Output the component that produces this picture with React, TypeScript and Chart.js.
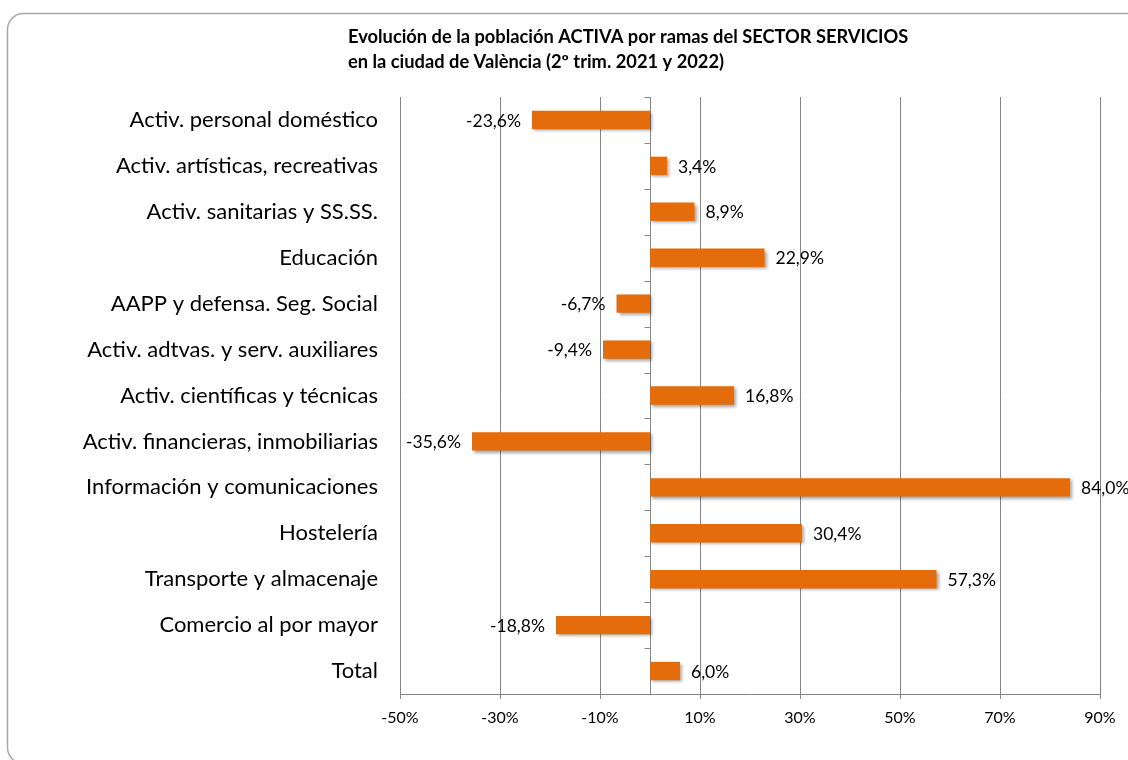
import React, { useEffect, useRef } from "react";
import { Chart, registerables } from "chart.js";

Chart.register(...registerables);

const categories = [
  "Activ. personal doméstico",
  "Activ. artísticas, recreativas",
  "Activ. sanitarias y SS.SS.",
  "Educación",
  "AAPP y defensa. Seg. Social",
  "Activ. adtvas. y serv. auxiliares",
  "Activ. científicas y técnicas",
  "Activ. financieras, inmobiliarias",
  "Información y comunicaciones",
  "Hostelería",
  "Transporte y almacenaje",
  "Comercio al por mayor",
  "Total",
];

const values = [-23.6, 3.4, 8.9, 22.9, -6.7, -9.4, 16.8, -35.6, 84.0, 30.4, 57.3, -18.8, 6.0];

const xTicks = [-50, -30, -10, 10, 30, 50, 70, 90];

const titleLines = [
  "Evolución de la población ACTIVA por ramas del SECTOR SERVICIOS",
  "en la ciudad de València (2º trim. 2021 y 2022)",
];

const FONT = "Lato, 'Open Sans', sans-serif";
const BAR = "#E46C0A";

const fmt = (v: number) => v.toFixed(1).replace(".", ",") + "%";

const decorPlugin = {
  id: "decor",
  beforeDraw(chart: any) {
    const ctx = chart.ctx;
    ctx.save();
    ctx.fillStyle = "#fff";
    ctx.fillRect(0, 0, chart.width, chart.height);
    ctx.strokeStyle = "#A6A6A6";
    ctx.lineWidth = 1.5;
    ctx.beginPath();
    (ctx as any).roundRect(7.5, 13.5, 1140, 750, 16);
    ctx.stroke();
    // title
    ctx.fillStyle = "#000";
    ctx.font = `bold 18.3px ${FONT}`;
    ctx.textAlign = "left";
    ctx.textBaseline = "middle";
    ctx.fillText(titleLines[0], 348, 37);
    ctx.fillText(titleLines[1], 348, 62);
    ctx.restore();
  },
  beforeDatasetsDraw(chart: any) {
    const ctx = chart.ctx;
    const xs = chart.scales.x;
    const x0 = Math.round(xs.getPixelForValue(0)) + 0.5;
    const { top, bottom } = chart.chartArea;
    ctx.save();
    ctx.strokeStyle = "#868686";
    ctx.lineWidth = 1;
    ctx.beginPath();
    ctx.moveTo(x0, top);
    ctx.lineTo(x0, bottom);
    const n = categories.length;
    const step = (bottom - top) / n;
    for (let i = 0; i <= n; i++) {
      const y = Math.round(top + i * step) + 0.5;
      ctx.moveTo(x0 - 6, y);
      ctx.lineTo(x0, y);
    }
    ctx.stroke();
    ctx.restore();
  },
  afterDatasetsDraw(chart: any) {
    const ctx = chart.ctx;
    const meta = chart.getDatasetMeta(0);
    ctx.save();
    ctx.fillStyle = "#000";
    ctx.font = `17.5px ${FONT}`;
    ctx.textBaseline = "middle";
    meta.data.forEach((el: any, i: number) => {
      const v = values[i];
      if (v >= 0) {
        ctx.textAlign = "left";
        ctx.fillText(fmt(v), el.x + 11, el.y + 1);
      } else {
        ctx.textAlign = "right";
        ctx.fillText(fmt(v), el.x - 11, el.y + 1);
      }
    });
    ctx.restore();
  },
};

const shadowPlugin = {
  id: "barShadow",
  beforeDatasetDraw(chart: any) {
    const ctx = chart.ctx;
    ctx.save();
    ctx.shadowColor = "rgba(0,0,0,0.35)";
    ctx.shadowBlur = 3;
    ctx.shadowOffsetX = 2;
    ctx.shadowOffsetY = 2;
  },
  afterDatasetDraw(chart: any) {
    chart.ctx.restore();
  },
};

export default function App() {
  const ref = useRef<HTMLCanvasElement | null>(null);
  useEffect(() => {
    if (!ref.current) return;
    const chart = new Chart(ref.current, {
      type: "bar",
      data: {
        labels: categories,
        datasets: [
          {
            data: values,
            backgroundColor: BAR,
            borderWidth: 0,
            barPercentage: 0.8,
            categoryPercentage: 0.5,
          },
        ],
      },
      options: {
        indexAxis: "y",
        responsive: false,
        animation: false,
        devicePixelRatio: 1,
        layout: { padding: { left: 0, right: 28, top: 97, bottom: 0 } },
        plugins: {
          legend: { display: false },
          tooltip: { enabled: false },
          title: { display: false },
        },
        scales: {
          x: {
            type: "linear",
            min: -50,
            max: 90,
            afterBuildTicks: (scale: any) => {
              scale.ticks = xTicks.map((v) => ({ value: v }));
            },
            afterFit: (scale: any) => {
              scale.height = 66;
            },
            grid: {
              color: "#868686",
              lineWidth: 1,
              tickLength: 5,
              drawTicks: true,
            },
            border: { display: true, color: "#868686", width: 1 },
            ticks: {
              padding: 9,
              color: "#000",
              font: { family: FONT, size: 16 },
              callback: (v: any) => `${v}%`,
              maxRotation: 0,
              autoSkip: false,
            },
          },
          y: {
            type: "category",
            afterFit: (scale: any) => {
              scale.width = 400;
            },
            grid: { display: false, drawTicks: false },
            border: { display: false },
            ticks: {
              padding: 22,
              color: "#000",
              font: { family: FONT, size: 22 },
              autoSkip: false,
            },
          },
        },
      },
      plugins: [decorPlugin, shadowPlugin],
    });
    return () => chart.destroy();
  }, []);
  return (
    <div style={{ position: "fixed", left: 0, top: 0, width: 1128, height: 760, background: "#fff" }}>
      <canvas ref={ref} width={1128} height={760} style={{ display: "block" }} />
    </div>
  );
}
